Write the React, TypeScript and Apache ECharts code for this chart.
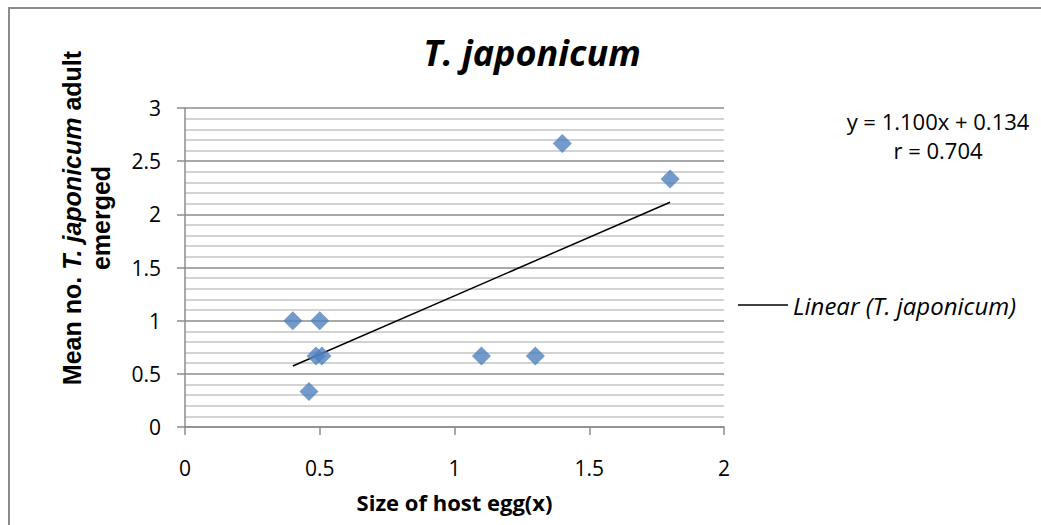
import React, { useEffect, useRef } from "react";
import * as echarts from "echarts";

const sizeX = [0.4, 0.5, 0.486, 0.508, 0.46, 1.1, 1.3, 1.4, 1.8];
const meanY = [1.0, 1.0, 0.667, 0.667, 0.333, 0.667, 0.667, 2.667, 2.333];
const slope = 1.1;
const intercept = 0.134;
const rValue = 0.704;
const xTicks = [0, 0.5, 1, 1.5, 2];
const yTicks = [0, 0.5, 1, 1.5, 2, 2.5, 3];

const FONT = "'Open Sans', sans-serif";

export default function App() {
  const ref = useRef<HTMLDivElement>(null);
  useEffect(() => {
    document.body.style.margin = "0";
    if (!ref.current) return;
    const chart = echarts.init(ref.current, null, { renderer: "svg" });
    const xMin = Math.min(...sizeX);
    const xMax = Math.max(...sizeX);
    const trend = [
      [xMin, slope * xMin + intercept],
      [xMax, slope * xMax + intercept],
    ];
    chart.setOption({
      animation: false,
      backgroundColor: "#ffffff",
      title: {
        text: "T. japonicum",
        left: 527,
        top: 29,
        textAlign: "center",
        textStyle: {
          fontFamily: FONT,
          fontStyle: "italic",
          fontWeight: "bold",
          fontSize: 36,
          color: "#000",
        },
      },
      legend: {
        data: [{ name: "Linear (T. japonicum)", icon: "rect" }],
        left: 733,
        top: 288,
        itemWidth: 50,
        itemHeight: 1.5,
        textStyle: {
          fontFamily: FONT,
          fontStyle: "italic",
          fontSize: 24,
          color: "#000",
        },
      },
      grid: { left: 185, right: 317, top: 108, bottom: 98, containLabel: false },
      xAxis: {
        type: "value",
        min: xTicks[0],
        max: xTicks[xTicks.length - 1],
        interval: 0.5,
        name: "Size of host egg(x)",
        nameLocation: "middle",
        nameGap: 64,
        nameTextStyle: {
          fontFamily: FONT,
          fontWeight: "bold",
          fontSize: 22,
          color: "#000",
        },
        axisLine: { lineStyle: { color: "#8c8c8c", width: 1.5 } },
        axisTick: { show: true, length: 8, lineStyle: { color: "#8c8c8c", width: 1.5 } },
        axisLabel: { fontFamily: FONT, fontSize: 21, color: "#000", margin: 30 },
        splitLine: { show: false },
      },
      yAxis: {
        type: "value",
        min: yTicks[0],
        max: yTicks[yTicks.length - 1],
        interval: 0.5,
        axisLine: { show: true, lineStyle: { color: "#8c8c8c", width: 1.5 } },
        axisTick: { show: true, length: 8, lineStyle: { color: "#8c8c8c", width: 1.5 } },
        axisLabel: { fontFamily: FONT, fontSize: 21, color: "#000", margin: 24 },
        splitLine: { show: true, lineStyle: { color: "#8c8c8c", width: 1.5 } },
        minorTick: { show: false, splitNumber: 5 },
        minorSplitLine: { show: true, lineStyle: { color: "#c3c3c3", width: 1.5 } },
      },
      graphic: [
        {
          type: "rect",
          shape: { x: 9, y: 8, width: 1100, height: 600 },
          style: { fill: "none", stroke: "#8c8c8c", lineWidth: 2 },
          silent: true,
        },
        {
          type: "text",
          x: 86,
          y: 218,
          rotation: Math.PI / 2,
          style: {
            text: "{b|Mean no. }{bi|T. japonicum}{b| adult}\n{b|emerged}",
            align: "center",
            verticalAlign: "middle",
            lineHeight: 29,
            rich: {
              b: { fontFamily: "'Liberation Sans', Arial, sans-serif", fontWeight: "bold", fontSize: 25, fill: "#000", lineHeight: 29 },
              bi: { fontFamily: "'Liberation Sans', Arial, sans-serif", fontWeight: "bold", fontStyle: "italic", fontSize: 25, fill: "#000", lineHeight: 29 },
            },
          },
        },
        {
          type: "text",
          x: 938,
          y: 121,
          style: {
            text: `y = ${slope.toFixed(3)}x + ${intercept.toFixed(3)}`,
            align: "center",
            verticalAlign: "middle",
            fontFamily: FONT,
            fontSize: 22,
            fill: "#000",
          },
        },
        {
          type: "text",
          x: 938,
          y: 150,
          style: {
            text: `r = ${rValue.toFixed(3)}`,
            align: "center",
            verticalAlign: "middle",
            fontFamily: FONT,
            fontSize: 22,
            fill: "#000",
          },
        },
      ],
      series: [
        {
          name: "T. japonicum",
          type: "scatter",
          symbol: "diamond",
          symbolSize: 19,
          itemStyle: { color: "#4f81bd" },
          data: sizeX.map((x, i) => [x, meanY[i]]),
          z: 3,
        },
        {
          name: "Linear (T. japonicum)",
          type: "line",
          showSymbol: false,
          symbol: "none",
          lineStyle: { color: "#000", width: 1.5 },
          itemStyle: { color: "#000" },
          data: trend,
          z: 2,
        },
      ],
    });
    return () => chart.dispose();
  }, []);
  return <div ref={ref} style={{ width: 1041, height: 525 }} />;
}
